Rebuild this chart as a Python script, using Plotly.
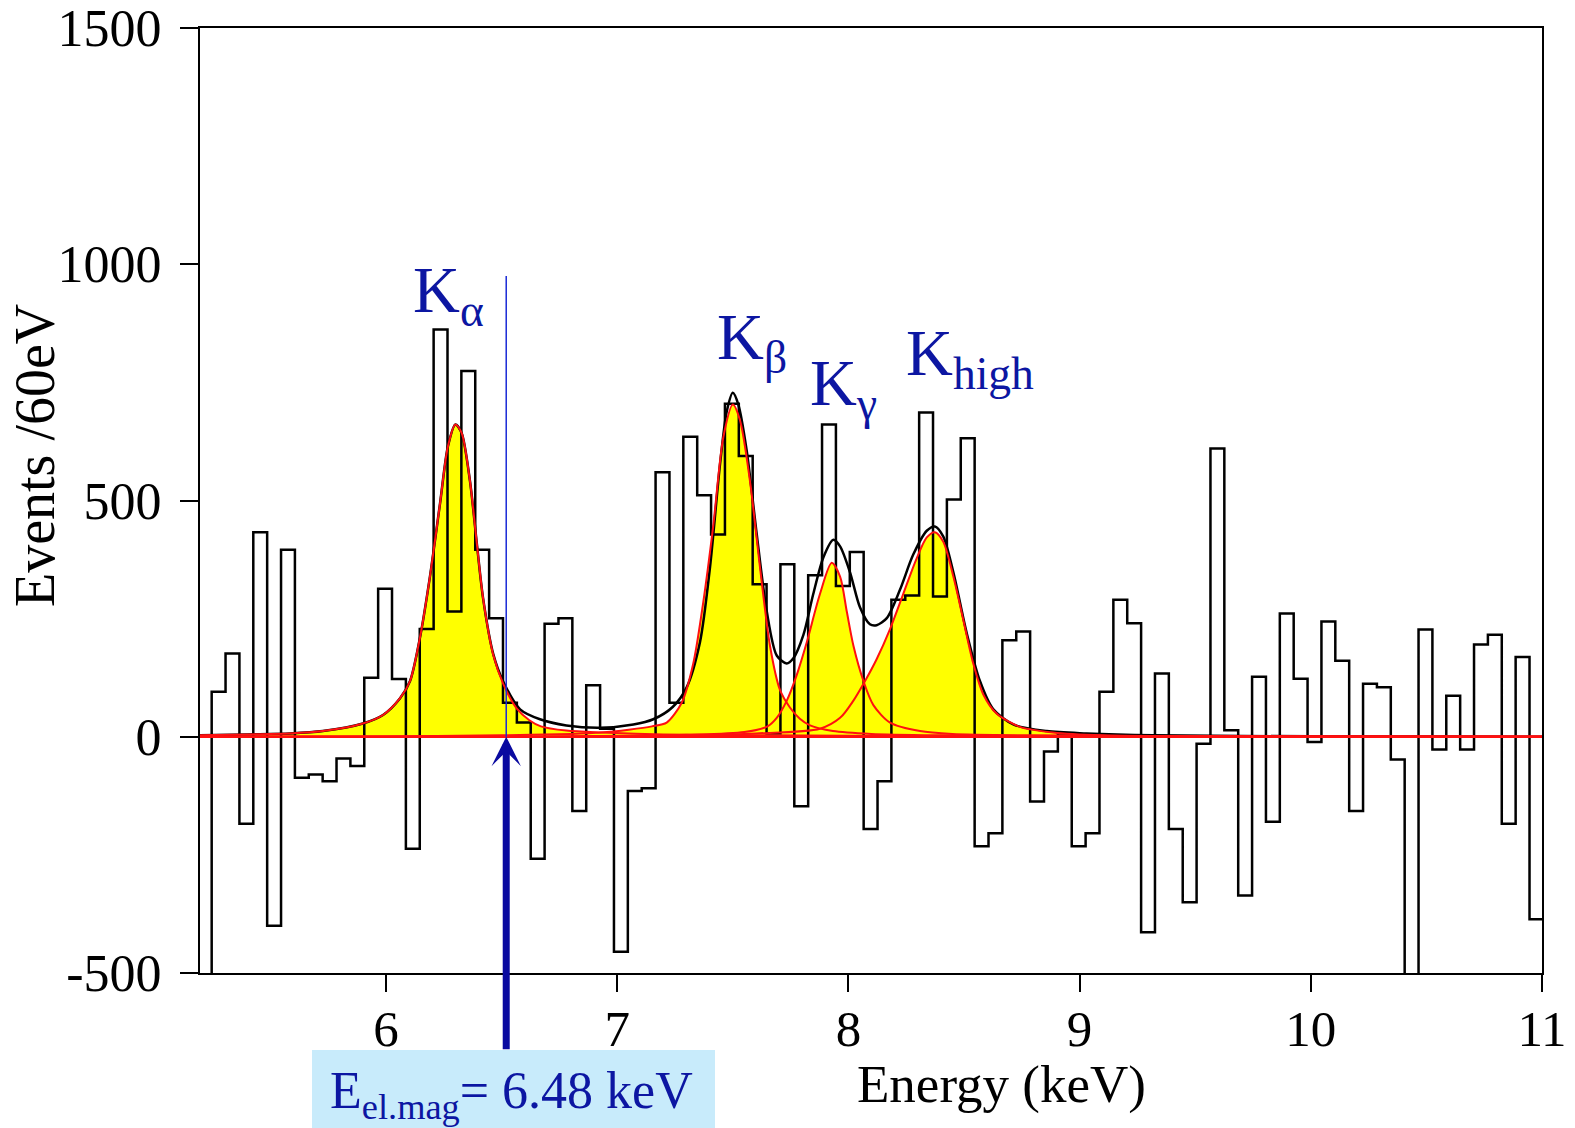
import numpy as np
import plotly.graph_objects as go

# ---------------- data ----------------
bin_first_edge = 5.186   # keV, left edge of first (clipped) bin
bin_width = 0.06         # keV (60 eV)
counts = [-560, 95, 176, -184, 433, -400, 396, -87, -80, -94,
          -46, -62, 125, 313, 122, -237, 228, 862, 265, 774,
          396, 251, 72, 30, -258, 239, 251, -157, 109, 17,
          -455, -115, -109, 560, 72, 635, 511, 428, 705, 594,
          323, 7, 365, -147, 342, 661, 319, 391, -195, -94,
          290, 299, 686, 297, 502, 632, -232, -204, 204, 223,
          -137, -31, 7, -232, -204, 95, 290, 240, -414, 134,
          -195, -350, -15, 610, 14, -336, 127, -180, 261, 123,
          -11, 244, 161, -157, 112, 105, -48, -505, 227, -27,
          87, -27, 195, 216, -184, 169, -386]

# fitted components
ka_x = [5.195, 5.40, 5.585, 5.727, 5.90, 5.987, 6.06, 6.104, 6.147, 6.19, 6.234, 6.268,
        6.30, 6.327, 6.363, 6.392, 6.42, 6.464, 6.507, 6.565, 6.62, 6.67, 6.78, 6.93,
        7.2, 7.6, 8.5, 11.0]
ka_y = [3, 5, 7, 12, 28, 46, 81, 118, 210, 339, 495, 615,
        661, 643, 542, 413, 293, 173, 112, 60, 35, 22, 13, 9,
        5, 3, 1, 0]

kb_x = [5.195, 6.0, 6.5, 6.8, 6.93, 7.05, 7.15, 7.214, 7.279, 7.329, 7.372, 7.416,
        7.459, 7.50, 7.531, 7.574, 7.618, 7.661, 7.704, 7.747, 7.79, 7.834, 7.933,
        8.1, 8.4, 9.0, 11.0]
kb_y = [0, 1, 3, 6, 9, 15, 22, 30, 72, 155, 284, 449,
        634, 703, 670, 542, 357, 192, 99, 62, 38, 24, 12,
        6, 3, 1, 0]

kg_x = [6.8, 7.3, 7.55, 7.65, 7.69, 7.733, 7.776, 7.82, 7.877, 7.928, 7.964, 7.993,
        8.022, 8.065, 8.108, 8.18, 8.31, 8.45, 8.8, 9.5, 11.0]
kg_y = [0, 4, 10, 22, 40, 76, 130, 200, 302, 368, 339, 265,
        192, 118, 67, 30, 12, 6, 3, 1, 0]

kh_x = [6.5, 7.3, 7.6, 7.877, 7.964, 8.021, 8.072, 8.122, 8.18, 8.237, 8.294, 8.339,
        8.374, 8.41, 8.454, 8.497, 8.54, 8.583, 8.641, 8.742, 8.885, 9.10, 9.5, 11.0]
kh_y = [0, 3, 7, 17, 40, 76, 118, 164, 228, 302, 376, 422,
        433, 413, 339, 247, 155, 90, 49, 21, 9, 3, 1, 0]

tot_x = [5.195, 5.40, 5.585, 5.727, 5.90, 5.987, 6.06, 6.104, 6.147, 6.19, 6.234, 6.268,
         6.30, 6.327, 6.363, 6.392, 6.42, 6.464, 6.507, 6.58, 6.666, 6.78, 6.926, 7.07,
         7.156, 7.24, 7.30, 7.358, 7.401, 7.445, 7.474, 7.50, 7.524, 7.56, 7.603, 7.647,
         7.69, 7.733, 7.762, 7.805, 7.848, 7.892, 7.935, 7.964, 8.007, 8.05, 8.093, 8.122,
         8.166, 8.223, 8.28, 8.339, 8.374, 8.41, 8.454, 8.512, 8.569, 8.627, 8.713, 8.858,
         9.03, 9.317, 10.0, 11.0]
tot_y = [3, 5, 7, 12, 28, 46, 81, 118, 210, 339, 495, 615,
         661, 643, 542, 413, 293, 175, 117, 58, 37, 24, 19, 26,
         37, 63, 104, 200, 357, 578, 689, 728, 703, 606, 431, 265,
         172, 155, 166, 215, 302, 380, 417, 403, 348, 274, 238, 236,
         251, 311, 385, 436, 445, 424, 348, 219, 118, 58, 26, 12,
         7, 3, 1, 0]

x_ticks = [6, 7, 8, 9, 10, 11]
y_ticks = [-500, 0, 500, 1000, 1500]
y_ticktext = ["-500", "0", "500", "1000", "1500"]
peak_labels = ["K<sub>α</sub>", "K<sub>β</sub>", "K<sub>γ</sub>", "K<sub>high</sub>"]
e_mag = 6.52          # keV, position of marked energy
e_line_top = 975      # events, top of thin marker line

# ---------------- figure ----------------
W, H = 1575, 1128
PL, PR, PT, PB = 200, 1542, 28, 973
def xp(px): return (px - PL) / (PR - PL)
def yp(py): return (PB - py) / (PB - PT)

SERIF = "Liberation Serif, Times New Roman, serif"
YELLOW = "#ffff00"
RED = "#ff1010"
DBLUE = "#0c16a2"

fig = go.Figure()

# yellow fills under each component
for cx, cy in [(ka_x, ka_y), (kb_x, kb_y), (kg_x, kg_y), (kh_x, kh_y)]:
    fig.add_trace(go.Scatter(x=cx, y=cy, mode="lines", fill="tozeroy",
                             fillcolor=YELLOW, line=dict(width=0, shape="spline", smoothing=0.8),
                             hoverinfo="skip", showlegend=False))

# histogram (step line)
edges = bin_first_edge + bin_width * np.arange(len(counts) + 1)
fig.add_trace(go.Scatter(x=edges, y=list(counts) + [counts[-1]], mode="lines",
                         line=dict(color="black", width=2.5, shape="hv"),
                         showlegend=False))

# total fit
fig.add_trace(go.Scatter(x=tot_x, y=tot_y, mode="lines",
                         line=dict(color="black", width=2.5, shape="spline", smoothing=0.8),
                         showlegend=False))

# component outlines
for cx, cy in [(ka_x, ka_y), (kb_x, kb_y), (kg_x, kg_y), (kh_x, kh_y)]:
    fig.add_trace(go.Scatter(x=cx, y=cy, mode="lines",
                             line=dict(color=RED, width=2, shape="spline", smoothing=0.8),
                             showlegend=False))

shapes = [
    dict(type="line", xref="paper", yref="y", x0=0, x1=1, y0=0, y1=0,
         line=dict(color=RED, width=2.5)),
    dict(type="line", xref="x", yref="y", x0=e_mag, x1=e_mag, y0=0, y1=e_line_top,
         line=dict(color="#1a2ad6", width=1.5)),
    dict(type="rect", xref="paper", yref="paper", x0=xp(312), x1=xp(715),
         y0=yp(1130), y1=yp(1050), fillcolor="#c8ebfb", line=dict(width=0), layer="below"),
]

annotations = []
label_pos = [(448, 295), (752, 342), (843, 388), (970, 358)]
for txt, (px, py) in zip(peak_labels, label_pos):
    annotations.append(dict(text=txt, xref="paper", yref="paper", x=xp(px), y=yp(py),
                            xanchor="center", yanchor="middle", showarrow=False,
                            font=dict(family=SERIF, size=65, color=DBLUE)))

annotations.append(dict(text="", xref="x", yref="y", x=e_mag, y=0, ax=0, ay=314,
                        showarrow=True, arrowhead=3, arrowsize=0.7, arrowwidth=7,
                        arrowcolor="#0a0aa0", standoff=0))
annotations.append(dict(text="E<sub>el.mag</sub>= 6.48 keV", xref="paper", yref="paper",
                        x=xp(511), y=yp(1094), xanchor="center", yanchor="middle",
                        showarrow=False, font=dict(family=SERIF, size=52, color=DBLUE)))
annotations.append(dict(text="Energy (keV)", xref="paper", yref="paper",
                        x=xp(1002), y=yp(1084), xanchor="center", yanchor="middle",
                        showarrow=False, font=dict(family=SERIF, size=53, color="black")))
annotations.append(dict(text="Events /60eV", xref="paper", yref="paper",
                        x=xp(35), y=yp(456), xanchor="center", yanchor="middle",
                        textangle=-90, showarrow=False,
                        font=dict(family=SERIF, size=56, color="black")))

fig.update_layout(
    width=W, height=H, autosize=False,
    margin=dict(l=PL, r=W - PR, t=PT, b=H - PB),
    paper_bgcolor="white", plot_bgcolor="white",
    shapes=shapes, annotations=annotations, showlegend=False,
    xaxis=dict(range=[5.1955, 11.0], tickvals=x_ticks, ticks="outside", ticklen=17,
               tickwidth=2, tickcolor="black", showline=True, linecolor="black",
               linewidth=2, mirror=True, showgrid=False, zeroline=False, automargin=False,
               ticklabelstandoff=-7,
               tickfont=dict(family=SERIF, size=51, color="black")),
    yaxis=dict(range=[-500, 1500], tickvals=y_ticks, ticktext=y_ticktext, ticks="outside",
               ticklen=18, tickwidth=2, tickcolor="black", showline=True, linecolor="black",
               linewidth=2, mirror=True, showgrid=False, zeroline=False, automargin=False,
               ticklabelstandoff=8,
               tickfont=dict(family=SERIF, size=52, color="black")),
)

fig.write_html("out.html")
